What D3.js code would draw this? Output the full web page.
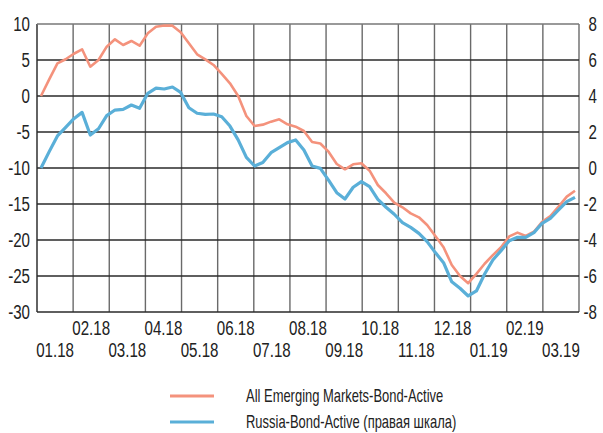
<!DOCTYPE html>
<html>
<head>
<meta charset="utf-8">
<script src="https://cdn.jsdelivr.net/npm/d3@7"></script>
<style>
  body { margin: 0; background: #fff; }
  text { font-family: "Liberation Sans", Arial, sans-serif; fill: #222; }
</style>
</head>
<body>
<div class="chart"></div>
<script>
// months on the x axis (one band each)
var months = ["01.18","02.18","03.18","04.18","05.18","06.18","07.18","08.18","09.18","10.18","11.18","12.18","01.19","02.19","03.19"];

// weekly values, left axis
var emValues = [0.0, 2.3, 4.54, 5.1, 5.87, 6.49, 4.07, 5.0, 6.85, 7.87, 7.08, 7.64, 6.99, 8.7, 9.63, 9.8, 9.77, 8.85,
  7.32, 5.79, 5.09, 4.31, 3.06, 1.76, 0.0, -2.78, -4.17, -3.98, -3.56, -3.24, -3.93, -4.26, -4.86, -6.39, -6.6,
  -7.73, -9.44, -10.18, -9.49, -9.35, -10.37, -12.36, -13.51, -14.82, -15.46, -16.3, -16.85, -17.92, -19.44, -21.0,
  -23.47, -25.0, -26.0, -24.7, -23.3, -22.1, -21.0, -19.5, -18.98, -19.44, -18.85, -17.46, -16.67, -15.37, -13.98, -13.15];

// weekly values, right axis
var ruValues = [0.0, 0.91, 1.78, 2.26, 2.74, 3.09, 1.83, 2.18, 2.91, 3.22, 3.26, 3.5, 3.32, 4.15, 4.44, 4.39, 4.5, 4.2,
  3.35, 3.04, 2.98, 3.0, 2.85, 2.33, 1.56, 0.59, 0.11, 0.3, 0.85, 1.13, 1.41, 1.56, 1.0, 0.11, -0.02,
  -0.67, -1.37, -1.72, -1.07, -0.76, -1.04, -1.74, -2.18, -2.57, -3.04, -3.3, -3.63, -4.09, -4.7, -5.26,
  -6.32, -6.68, -7.11, -6.83, -5.89, -5.11, -4.59, -4.04, -3.85, -3.85, -3.59, -3.07, -2.8, -2.33, -1.87, -1.63];

var leftTicks = [10, 5, 0, -5, -10, -15, -20, -25, -30];
var rightTicks = [8, 6, 4, 2, 0, -2, -4, -6, -8];
var seriesNames = ["All Emerging Markets-Bond-Active", "Russia-Bond-Active (правая шкала)"];
var seriesColors = ["#f4927c", "#5aafd8"];

var margin = {top: 24, right: 24, bottom: 121, left: 37},
    width = 603 - margin.left - margin.right,
    height = 433 - margin.top - margin.bottom;

var svg = d3.select(".chart")
  .append("svg")
    .attr("width", 603)
    .attr("height", 433)
  .append("g")
    .attr("transform", "translate(" + margin.left + "," + margin.top + ")");

// condensed look: squeeze text horizontally
var squeeze = 0.72;
function condensed(sel, fx, fy) {
  sel.attr("transform", function(d, i) {
    return "translate(" + fx(d, i) + "," + fy(d, i) + ") scale(" + squeeze + ",1)";
  });
}

var xBand = d3.scaleBand().domain(months).range([0, width]);
var x = d3.scaleLinear().domain([0, emValues.length - 1]).range([4, width - 4]);
var yL = d3.scaleLinear().domain([-30, 10]).range([height, 0]);
var yR = d3.scaleLinear().domain([-8, 8]).range([height, 0]);

// vertical grid
svg.append("g")
  .selectAll("line")
  .data(months.map(function(m) { return xBand(m); }).concat([width]))
  .enter().append("line")
    .attr("x1", function(d) { return d; })
    .attr("x2", function(d) { return d; })
    .attr("y1", 0).attr("y2", height)
    .attr("stroke", function(d, i) { return i == 0 ? "#222" : "#6a6a6a"; })
    .attr("stroke-width", 1.4);

// horizontal grid
svg.append("g")
  .selectAll("line")
  .data(leftTicks)
  .enter().append("line")
    .attr("x1", 0).attr("x2", width)
    .attr("y1", function(d) { return yL(d); })
    .attr("y2", function(d) { return yL(d); })
    .attr("stroke", function(d) { return d == 10 ? "#777" : "#2a2a2a"; })
    .attr("stroke-width", 1.4);

// left axis labels
svg.append("g")
  .selectAll("text")
  .data(leftTicks)
  .enter().append("text")
    .attr("text-anchor", "end")
    .style("font-size", "21px")
    .text(function(d) { return d; })
    .call(condensed, function() { return -7; }, function(d) { return yL(d) + 7; });

// right axis labels
svg.append("g")
  .selectAll("text")
  .data(rightTicks)
  .enter().append("text")
    .attr("text-anchor", "end")
    .style("font-size", "21px")
    .text(function(d) { return d; })
    .call(condensed, function() { return width + 18; }, function(d) { return yR(d) + 7; });

// month labels, two rows
svg.append("g")
  .selectAll("text")
  .data(months)
  .enter().append("text")
    .attr("text-anchor", "middle")
    .style("font-size", "21px")
    .text(function(d) { return d; })
    .call(condensed,
      function(d) { return xBand(d) + xBand.bandwidth() / 2; },
      function(d, i) { return i % 2 == 0 ? height + 45 : height + 23; });

// lines
var lineL = d3.line().x(function(d, i) { return x(i); }).y(function(d) { return yL(d); });
var lineR = d3.line().x(function(d, i) { return x(i); }).y(function(d) { return yR(d); });

svg.append("path").datum(emValues)
  .attr("d", lineL).attr("fill", "none")
  .attr("stroke", seriesColors[0]).attr("stroke-width", 2.6).attr("stroke-linejoin", "round");
svg.append("path").datum(ruValues)
  .attr("d", lineR).attr("fill", "none")
  .attr("stroke", seriesColors[1]).attr("stroke-width", 3.2).attr("stroke-linejoin", "round");

// legend
var legend = svg.append("g").attr("transform", "translate(" + (170 - margin.left) + "," + (396 - margin.top) + ")");
seriesNames.forEach(function(name, i) {
  legend.append("line")
    .attr("x1", 0).attr("x2", 44)
    .attr("y1", i * 26).attr("y2", i * 26)
    .attr("stroke", seriesColors[i]).attr("stroke-width", 3);
  legend.append("text")
    .datum(name)
    .style("font-size", "18px")
    .text(name)
    .call(condensed, function() { return 76; }, function() { return i * 26 + 6; });
});
</script>
</body>
</html>
